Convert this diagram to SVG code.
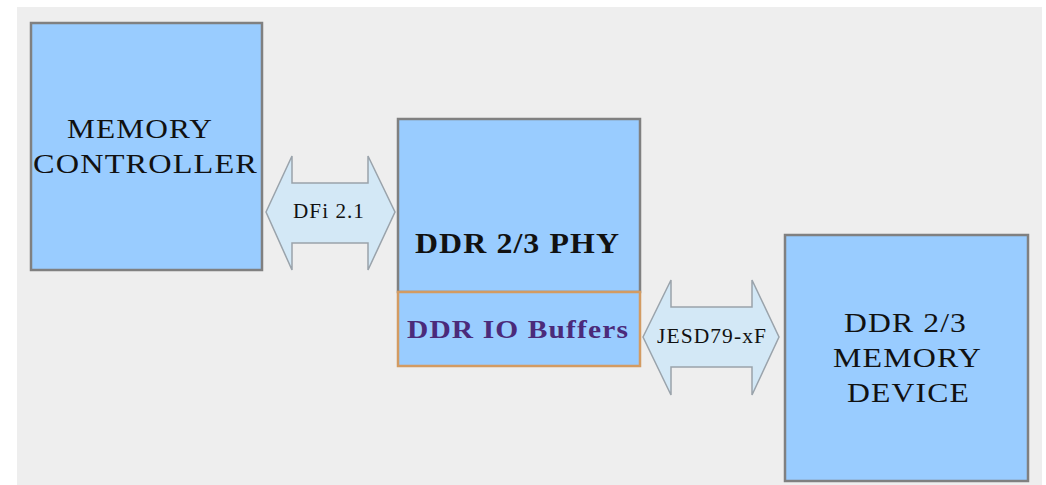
<svg xmlns="http://www.w3.org/2000/svg" width="1046" height="485" viewBox="0 0 1046 485">
<style>
.box{fill:#99ccff;stroke:#808080;stroke-width:2.5}
.io{fill:#99ccff;stroke:#d39b62;stroke-width:2.5}
.arrow{fill:#d3e8f6;stroke:#9aa3ab;stroke-width:1.5}
.t{font-family:"Liberation Serif","Times New Roman",serif;fill:#111;letter-spacing:1px}
.b{font-weight:bold}
</style>
<rect x="0" y="0" width="1046" height="485" fill="#ffffff"/>
<rect x="17" y="7" width="1025" height="478" fill="#eeeeee"/>
<g id="connectors">
<polygon class="arrow" points="266,212 292,156 292,183 368,183 368,156 395,212 368,270 368,243 292,243 292,270"/>
<text class="t" x="293" y="218" font-size="20" textLength="72" lengthAdjust="spacingAndGlyphs">DFi 2.1</text>
<polygon class="arrow" points="643,337 671,280 671,307 752,307 752,280 779,337 752,395 752,367 671,367 671,395"/>
<text class="t" x="657" y="343" font-size="20" textLength="110" lengthAdjust="spacingAndGlyphs">JESD79-xF</text>
</g>
<g id="memory-controller">
<rect class="box" x="31" y="23" width="231" height="247"/>
<text class="t" x="67" y="138" font-size="28" textLength="146" lengthAdjust="spacingAndGlyphs">MEMORY</text>
<text class="t" x="33" y="173" font-size="28" textLength="225" lengthAdjust="spacingAndGlyphs">CONTROLLER</text>
</g>
<g id="ddr-phy">
<rect class="box" x="398" y="119" width="242" height="173"/>
<text class="t b" x="415" y="253" font-size="29" textLength="205" lengthAdjust="spacingAndGlyphs">DDR 2/3 PHY</text>
</g>
<g id="ddr-io-buffers">
<rect class="io" x="398" y="292" width="242" height="74"/>
<text class="t b" x="407" y="338" font-size="26" style="fill:#4b2a7a" textLength="222" lengthAdjust="spacingAndGlyphs">DDR IO Buffers</text>
</g>
<g id="memory-device">
<rect class="box" x="785" y="235" width="243" height="246"/>
<text class="t" x="844" y="332" font-size="28" textLength="123" lengthAdjust="spacingAndGlyphs">DDR 2/3</text>
<text class="t" x="833" y="367" font-size="28" textLength="149" lengthAdjust="spacingAndGlyphs">MEMORY</text>
<text class="t" x="847" y="402" font-size="28" textLength="123" lengthAdjust="spacingAndGlyphs">DEVICE</text>
</g>
</svg>
